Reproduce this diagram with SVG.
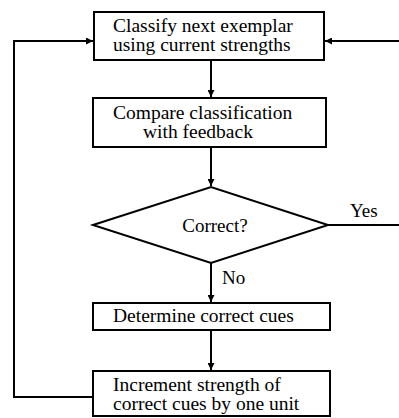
<svg xmlns="http://www.w3.org/2000/svg" width="399" height="418" viewBox="0 0 399 418">
<defs>
<style>
.box{fill:#fff;stroke:#000;stroke-width:2}
.ln{fill:none;stroke:#000;stroke-width:2}
text{font-family:"Liberation Serif","Times New Roman",serif;font-size:19px;fill:#000}
.bt{font-size:19.5px}
</style>
<marker id="ah" viewBox="0 0 10 10" refX="10" refY="5" markerWidth="10" markerHeight="7" markerUnits="userSpaceOnUse" orient="auto">
<path d="M0,0 L10,5 L0,10 Z" fill="#000"/>
</marker>
</defs>
<g id="connectors">
<line class="ln" x1="211" y1="60" x2="211" y2="97" marker-end="url(#ah)"/>
<line class="ln" x1="211" y1="147" x2="211" y2="186" marker-end="url(#ah)"/>
<line class="ln" x1="211" y1="263" x2="211" y2="302" marker-end="url(#ah)"/>
<line class="ln" x1="211" y1="330" x2="211" y2="370" marker-end="url(#ah)"/>
<polyline class="ln" points="93,397 14,397 14,41 93,41" marker-end="url(#ah)"/>
<polyline class="ln" points="328,225 399,225"/>
<line class="ln" x1="399" y1="41" x2="325" y2="41" marker-end="url(#ah)"/>
<text x="350" y="217">Yes</text>
<text x="222" y="284">No</text>
</g>
<g id="classify">
<rect class="box" x="94" y="12" width="230" height="48"/>
<text class="bt" x="113" y="32">Classify next exemplar</text>
<text class="bt" x="113" y="51">using current strengths</text>
</g>
<g id="compare">
<rect class="box" x="93" y="98" width="233" height="49"/>
<text class="bt" x="113" y="119">Compare classification</text>
<text class="bt" x="143" y="138">with feedback</text>
</g>
<g id="correct">
<polygon class="box" points="93,225 211,187 328,225 211,263"/>
<text x="215" y="232" text-anchor="middle">Correct?</text>
</g>
<g id="determine">
<rect class="box" x="93" y="303" width="237" height="27"/>
<text class="bt" x="113" y="322">Determine correct cues</text>
</g>
<g id="increment">
<rect class="box" x="93" y="371" width="237" height="45"/>
<text class="bt" x="113" y="391">Increment strength of</text>
<text class="bt" x="113" y="410">correct cues by one unit</text>
</g>
</svg>
